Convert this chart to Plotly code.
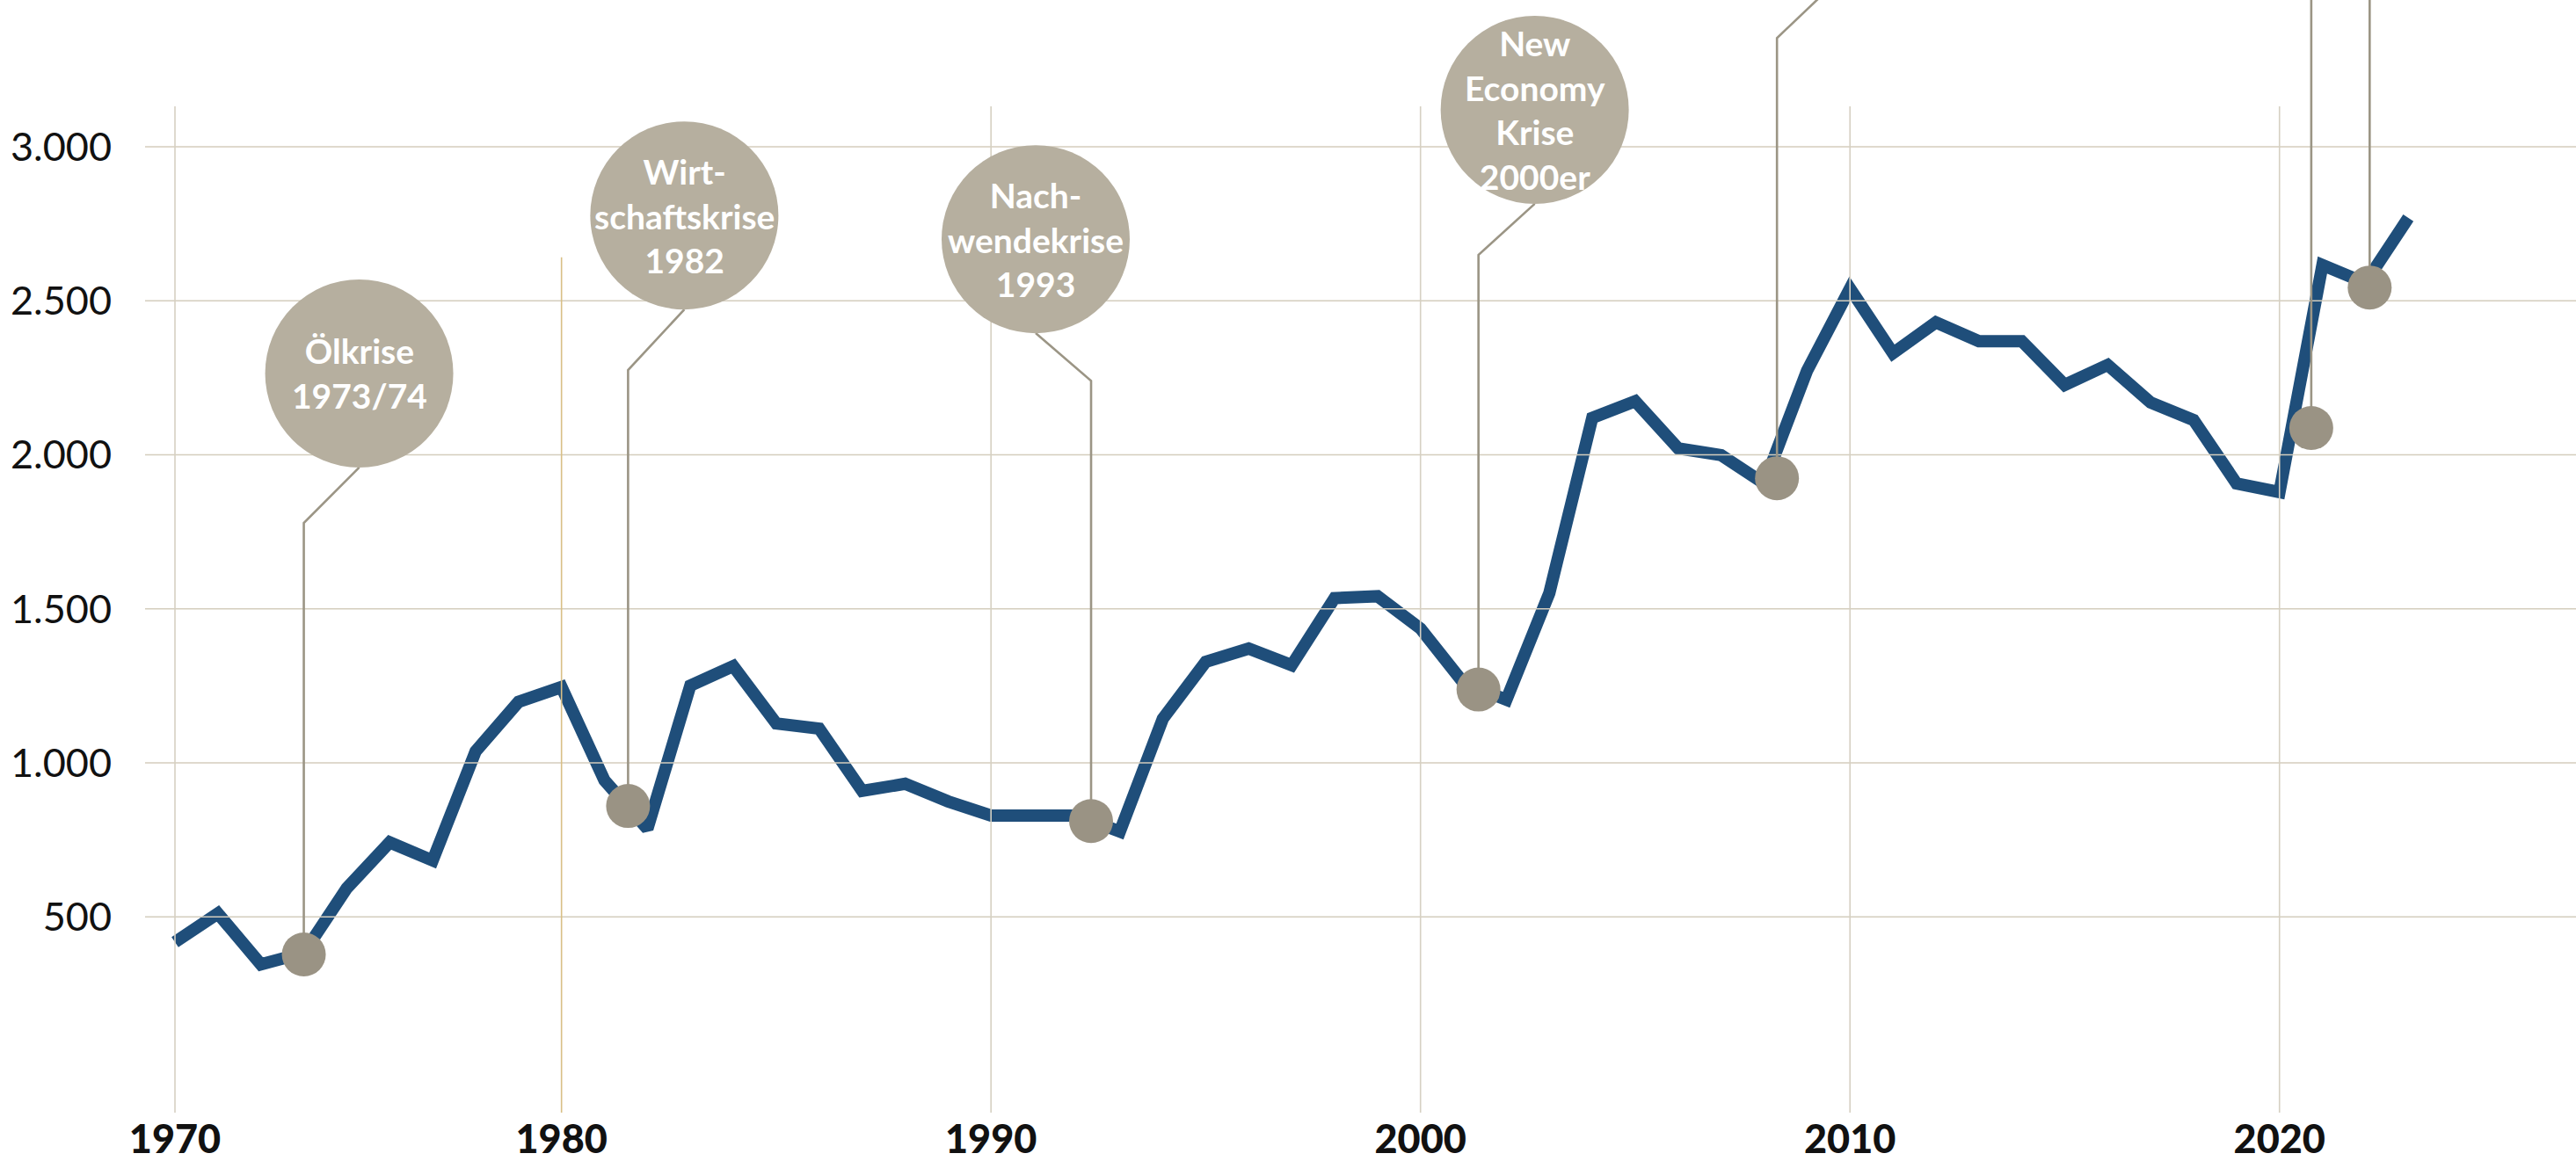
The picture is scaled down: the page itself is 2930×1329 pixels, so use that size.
import plotly.graph_objects as go

# ---------------- data ----------------
years = list(range(1971, 2024))
values = [418, 511, 346, 383, 593, 742, 683, 1037, 1198, 1246,
          943, 786, 1251, 1314, 1128, 1111, 909, 932, 875, 829,
          829, 829, 777, 1143, 1328, 1371, 1317, 1535, 1541, 1436,
          1260, 1205, 1551, 2120, 2174, 2021, 1999, 1907, 2273, 2540,
          2330, 2430, 2369, 2369, 2227, 2292, 2170, 2113, 1907, 1879,
          2616, 2558, 2769]

y_tick_values = [500, 1000, 1500, 2000, 2500, 3000]
y_tick_labels = ["500", "1.000", "1.500", "2.000", "2.500", "3.000"]
x_tick_positions = [1971, 1980, 1990, 2000, 2010, 2020]
x_tick_labels = ["1970", "1980", "1990", "2000", "2010", "2020"]

# crisis markers (dot on the curve, elbow of the leader, bubble)
crisis_text = ["Ölkrise<br>1973/74", "Wirt-<br>schaftskrise<br>1982",
               "Nach-<br>wendekrise<br>1993", "New<br>Economy<br>Krise<br>2000er",
               "", "", ""]
crisis_dot_x = [1974.0, 1981.55, 1992.33, 2001.35, 2008.3, 2020.74, 2022.1]
crisis_dot_y = [378, 860, 811, 1238, 1924, 2087, 2543]
crisis_elbow_y = [1779, 2275, 2240, 2649, 3353, 3700, 3700]
crisis_bubble_dx = [1.29, 1.31, -1.29, 1.31, 2.2, 0.0, 0.0]
crisis_bubble_y = [2264, 2777, 2700, 3120, 3950, 3950, 3950]

# ---------------- style ----------------
LINE_BLUE = "#1f4e7a"
GRID_H = "#d4cdbd"
GRID_V = "#d6d0c2"
GRID_V_GOLD = "#d9bf86"
LEADER = "#9b9585"
DOT = "#9a9384"
BUBBLE = "#b6af9f"
FONT = "Lato"

X_RANGE = [1970.304, 2026.904]
Y_RANGE = [-135.5, 3476.5]
BUBBLE_D = 214
BUBBLE_R_UNITS = 305  # bubble radius expressed in y units

fig = go.Figure()

# main series
fig.add_trace(go.Scatter(x=years, y=values, mode="lines",
                         line=dict(color=LINE_BLUE, width=14),
                         hoverinfo="skip", showlegend=False))

# horizontal gridlines (drawn above the series, as in the original)
hx, hy = [], []
for v in y_tick_values:
    hx += [X_RANGE[0], X_RANGE[1], None]
    hy += [v, v, None]
fig.add_trace(go.Scatter(x=hx, y=hy, mode="lines",
                         line=dict(color=GRID_H, width=1.6),
                         hoverinfo="skip", showlegend=False))

# vertical gridlines
v_tops = [3131, 2641, 3131, 3131, 3131, 3131]
for pos, top in zip(x_tick_positions, v_tops):
    fig.add_trace(go.Scatter(x=[pos, pos], y=[Y_RANGE[0], top], mode="lines",
                             line=dict(color=GRID_V_GOLD if top < 3000 else GRID_V, width=1.6),
                             hoverinfo="skip", showlegend=False))

# leader lines
for dx0, dy0, ey, bdx, by in zip(crisis_dot_x, crisis_dot_y, crisis_elbow_y,
                                 crisis_bubble_dx, crisis_bubble_y):
    fig.add_trace(go.Scatter(x=[dx0, dx0, dx0 + bdx], y=[dy0, ey, by - BUBBLE_R_UNITS],
                             mode="lines", line=dict(color=LEADER, width=2.6),
                             hoverinfo="skip", showlegend=False))

# dots on the curve
fig.add_trace(go.Scatter(x=crisis_dot_x, y=crisis_dot_y, mode="markers",
                         marker=dict(size=50, color=DOT, line=dict(width=0)),
                         hoverinfo="skip", showlegend=False))

# bubbles
bx = [d + b for d, b, t in zip(crisis_dot_x, crisis_bubble_dx, crisis_text) if t]
by = [y for y, t in zip(crisis_bubble_y, crisis_text) if t]
bt = [t for t in crisis_text if t]
fig.add_trace(go.Scatter(x=bx, y=by, mode="markers",
                         marker=dict(size=BUBBLE_D, color=BUBBLE, line=dict(width=0)),
                         hoverinfo="skip", showlegend=False, cliponaxis=False))
for x, y, t in zip(bx, by, bt):
    fig.add_annotation(x=x, y=y, text=t, showarrow=False, align="center",
                       xanchor="center", yanchor="middle",
                       font=dict(family=FONT, size=39, color="white", weight=700))

fig.update_layout(
    width=2930, height=1329,
    margin=dict(l=165, r=0, t=0, b=63),
    paper_bgcolor="white", plot_bgcolor="white",
    showlegend=False,
    xaxis=dict(range=X_RANGE, tickvals=x_tick_positions, ticktext=x_tick_labels,
               showgrid=False, zeroline=False, showline=False,
               ticks="", ticklen=0,
               tickfont=dict(family=FONT, size=45, color="#111111", weight=900),
               automargin=False, fixedrange=True),
    yaxis=dict(range=Y_RANGE, tickvals=y_tick_values, ticktext=y_tick_labels,
               showgrid=False, zeroline=False, showline=False,
               ticks="outside", ticklen=28, tickcolor="rgba(0,0,0,0)",
               tickfont=dict(family=FONT, size=45, color="#111111"),
               automargin=False, fixedrange=True),
)

fig.write_html("out.html",
               config={"displayModeBar": False, "staticPlot": True},
               post_script="document.body.style.margin='0px';document.body.style.overflow='hidden';")
